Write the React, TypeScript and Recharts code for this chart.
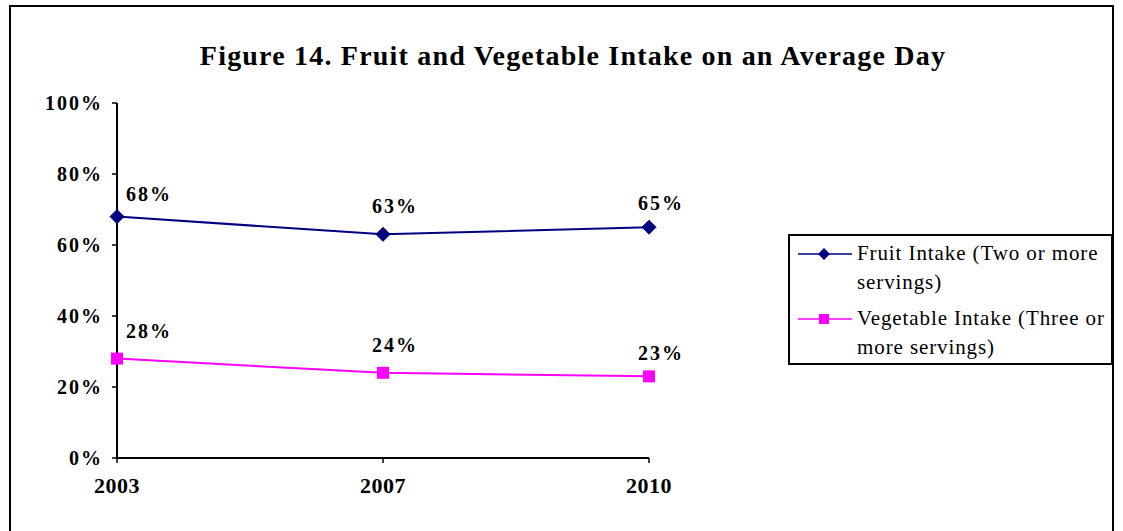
import React from 'react';
import { LineChart, Line, XAxis, YAxis } from 'recharts';

const years = ['2003', '2007', '2010'];
const fruitValues = [68, 63, 65];
const vegetableValues = [28, 24, 23];
const yTicks = [0, 20, 40, 60, 80, 100];
const fruitName = 'Fruit Intake (Two or more servings)';
const vegName = 'Vegetable Intake (Three or more servings)';

const data = years.map((y, i) => ({ year: y, fruit: fruitValues[i], veg: vegetableValues[i] }));

const FONT = '"Liberation Serif", "Times New Roman", serif';
const NAVY = '#000080';
const MAGENTA = '#FF00FF';

const Diamond = (props: any) => {
  const { cx, cy } = props;
  if (cx == null || cy == null) return null;
  const r = 7;
  return <path d={`M${cx},${cy - r}L${cx + r},${cy}L${cx},${cy + r}L${cx - r},${cy}Z`} fill={NAVY} stroke={NAVY} />;
};

const Square = (props: any) => {
  const { cx, cy } = props;
  if (cx == null || cy == null) return null;
  const s = 6;
  return <rect x={cx - s} y={cy - s} width={2 * s} height={2 * s} fill={MAGENTA} />;
};

const makeLabel = (dyArr: number[]) => (props: any) => {
  const { x, y, value, index } = props;
  const dx = index === 0 ? 32 : 12;
  return (
    <text
      x={x + dx}
      y={y + dyArr[index]}
      textAnchor="middle"
      dominantBaseline="central"
      fontFamily={FONT}
      fontWeight="bold"
      fontSize={20}
      letterSpacing={2}
      fill="#000"
    >
      {value}%
    </text>
  );
};

const fruitLabel = makeLabel([-23, -28, -24]);
const vegLabel = makeLabel([-28, -28, -23]);

const LegendBox = () => {
  const entry = (top: number, color: string, marker: 'd' | 's', lines: string[]) => (
    <div style={{ position: 'absolute', left: 0, top, width: 325 }}>
      <svg style={{ position: 'absolute', left: 6, top: 0 }} width={56} height={20}>
        <line x1={2} y1={10} x2={56} y2={10} stroke={color} strokeWidth={1.5} />
        {marker === 'd' ? (
          <path d="M28,4L34,10L28,16L22,10Z" fill={color} />
        ) : (
          <rect x={23} y={5} width={10} height={10} fill={color} />
        )}
      </svg>
      <div
        style={{
          position: 'absolute',
          left: 67,
          top: -5,
          fontFamily: FONT,
          fontSize: 21,
          lineHeight: '29px',
          letterSpacing: 0.9,
          whiteSpace: 'nowrap',
          color: '#000',
        }}
      >
        {lines.map((l, i) => (
          <div key={i}>{l}</div>
        ))}
      </div>
    </div>
  );
  return (
    <div
      style={{
        position: 'absolute',
        left: 788,
        top: 234,
        width: 321,
        height: 127,
        border: '2px solid #000',
        background: '#fff',
      }}
    >
      {entry(8, NAVY, 'd', ['Fruit Intake (Two or more', 'servings)'])}
      {entry(73, MAGENTA, 's', ['Vegetable Intake (Three or', 'more servings)'])}
    </div>
  );
};

export default function App() {
  return (
    <div style={{ position: 'absolute', left: 0, top: 0, width: 1123, height: 531, overflow: 'hidden', background: '#fff' }}>
      <div
        style={{
          position: 'absolute',
          left: 9,
          top: 5,
          width: 1105,
          height: 560,
          border: '2px solid #000',
          boxSizing: 'border-box',
        }}
      />
      <div
        style={{
          position: 'absolute',
          left: 0,
          width: 1146,
          top: 40,
          textAlign: 'center',
          fontFamily: FONT,
          fontWeight: 'bold',
          fontSize: 28,
          letterSpacing: 1.2,
          color: '#000',
          whiteSpace: 'nowrap',
        }}
      >
        Figure 14. Fruit and Vegetable Intake on an Average Day
      </div>
      <div style={{ position: 'absolute', left: 0, top: 0 }}>
        <LineChart
          width={1123}
          height={531}
          data={data}
          margin={{ top: 103, right: 474, bottom: 43, left: 57 }}
          accessibilityLayer={false}
        >
          <XAxis
            dataKey="year"
            axisLine={{ stroke: '#000', strokeWidth: 2 }}
            tickLine={{ stroke: '#000', strokeWidth: 1.5 }}
            tickSize={5}
            height={30}
            tick={{ fontFamily: FONT, fontWeight: 'bold', fontSize: 22, fill: '#000', letterSpacing: 0.5 }}
            tickMargin={14}
          />
          <YAxis
            domain={[0, 100]}
            ticks={yTicks}
            interval={0}
            width={60}
            tickFormatter={(v: number) => `${v}%`}
            axisLine={{ stroke: '#000', strokeWidth: 2 }}
            tickLine={{ stroke: '#000', strokeWidth: 1.5 }}
            tickSize={5}
            tickMargin={9}
            tick={{ fontFamily: FONT, fontWeight: 'bold', fontSize: 20, fill: '#000', letterSpacing: 2 }}
          />
          <Line
            name={fruitName}
            dataKey="fruit"
            stroke={NAVY}
            strokeWidth={2}
            dot={<Diamond />}
            activeDot={false}
            isAnimationActive={false}
            label={fruitLabel}
          />
          <Line
            name={vegName}
            dataKey="veg"
            stroke={MAGENTA}
            strokeWidth={2}
            dot={<Square />}
            activeDot={false}
            isAnimationActive={false}
            label={vegLabel}
          />
        </LineChart>
      </div>
      <LegendBox />
    </div>
  );
}
